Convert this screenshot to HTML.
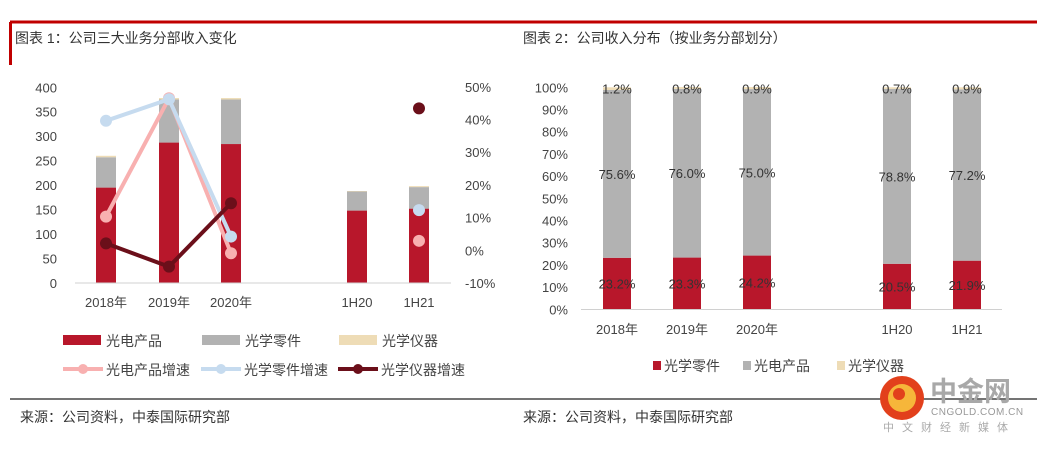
<!DOCTYPE html>
<html><head><meta charset="utf-8"><style>
body{margin:0;background:#fff;width:1037px;height:445px;overflow:hidden;font-family:"Liberation Sans","Noto Sans CJK SC",sans-serif}
svg text{font-family:"Liberation Sans","Noto Sans CJK SC",sans-serif}
</style></head><body>
<svg id="s" width="1037" height="445" xmlns="http://www.w3.org/2000/svg">
<rect x="10" y="20.5" width="1027" height="3" fill="#c00000"/>
<rect x="9" y="22" width="3" height="43" fill="#c00000"/>
<text x="15" y="43" font-size="14" fill="#333">图表 1：公司三大业务分部收入变化</text>
<text x="523" y="43" font-size="14" fill="#333">图表 2：公司收入分布（按业务分部划分）</text>
<line x1="10" y1="399" x2="1037" y2="399" stroke="#222" stroke-width="1.2"/>
<text x="20" y="422" font-size="14" fill="#333">来源：公司资料，中泰国际研究部</text>
<text x="523" y="422" font-size="14" fill="#333">来源：公司资料，中泰国际研究部</text>
<g id="c1"></g>
<g id="c2"></g>
<g>
<circle cx="902" cy="398" r="22" fill="#e2401c"/>
<circle cx="902" cy="398" r="14" fill="#f6b63a"/>
<circle cx="899" cy="394" r="6" fill="#e2401c"/>
<text x="930" y="401" font-size="27" font-weight="bold" fill="#a8a8a8">中金网</text>
<text x="931" y="415" font-size="10" fill="#999" letter-spacing="0.5">CNGOLD.COM.CN</text>
<text x="883" y="431" font-size="11" fill="#aaa" letter-spacing="8">中文财经新媒体</text>
</g>
</svg>
<script>
const NS="http://www.w3.org/2000/svg";
function mk(p,tag,a,txt){const e=document.createElementNS(NS,tag);for(const k in a)e.setAttribute(k,a[k]);if(txt!==undefined)e.textContent=txt;p.appendChild(e);return e;}
// ---- Chart 1 data ----
const cats1=["2018年","2019年","2020年","1H20","1H21"];
const optoRev=[195,287,284,148,152];
const partsRev=[62,88,91,39,44];
const instRev=[3,3,3,1,2];
const optoGrowth=[10.3,46.5,-0.9,null,2.9];
const partsGrowth=[39.6,46.2,4.2,null,12.3];
const instGrowth=[2.1,-5.0,14.4,null,43.4];
const leftTicks=[0,50,100,150,200,250,300,350,400];
const rightTicks=[-10,0,10,20,30,40,50];
// ---- Chart 2 data ----
const cats2=["2018年","2019年","2020年","1H20","1H21"];
const shareParts=[23.2,23.3,24.2,20.5,21.9];
const shareOpto=[75.6,76.0,75.0,78.8,77.2];
const shareInst=[1.2,0.8,0.9,0.7,0.9];
const pctTicks=[0,10,20,30,40,50,60,70,80,90,100];

const RED="#b8172b",GRAY="#b2b2b2",BEIGE="#eedcb6";
const c1=document.getElementById('c1');
const x1=i=>[106,169,231,357,419][i];
const yL=v=>283-v*0.4893;
const yR=v=>250.3-v*3.27;
leftTicks.forEach(t=>{const e=mk(c1,'text',{x:57,y:yL(t)+5,'font-size':13,fill:'#444','text-anchor':'end'},t);

});
rightTicks.forEach(t=>{const e=mk(c1,'text',{x:465,y:yR(t)+5,'font-size':13,fill:'#444'},t+'%');

});
cats1.forEach((c,i)=>{
 const bw=20,x=x1(i)-bw/2;let b=0;
 [[optoRev,RED,'bar-opto'],[partsRev,GRAY,'bar-parts'],[instRev,BEIGE,'bar-inst']].forEach(([arr,col,nm])=>{
  const r=mk(c1,'rect',{x:x,y:yL(b+arr[i]),width:bw,height:yL(b)-yL(b+arr[i]),fill:col});
  
  
  b+=arr[i];});
 const t=mk(c1,'text',{x:x1(i),y:307,'font-size':13,fill:'#444','text-anchor':'middle'},c);
 
 
});
const ax1=mk(c1,'line',{x1:75,y1:283,x2:451,y2:283,stroke:'#d0d0d0','stroke-width':1});


[[optoGrowth,'#f8b0b0','line-opto-growth'],[partsGrowth,'#c6dbef','line-parts-growth'],[instGrowth,'#6b0f1a','line-inst-growth']].forEach(([arr,col,nm])=>{
 let d='',pen=false;
 arr.forEach((v,i)=>{if(v===null){pen=false;return;}d+=(pen?'L':'M')+x1(i)+' '+yR(v)+' ';pen=true;});
 const p=mk(c1,'path',{d:d,fill:'none',stroke:col,'stroke-width':4});
 
 
 arr.forEach((v,i)=>{if(v===null)return;const c=mk(c1,'circle',{cx:x1(i),cy:yR(v),r:6,fill:col});
 
 });
});
// legend chart1
[[63,'光电产品',RED],[202,'光学零件',GRAY],[339,'光学仪器',BEIGE]].forEach(([x,l,c])=>{
 const r=mk(c1,'rect',{x:x,y:335,width:38,height:10,fill:c});
 
 
 const t=mk(c1,'text',{x:x+43,y:346,'font-size':14,fill:'#444'},l);
 
 
});
[[63,'光电产品增速','#f8b0b0'],[201,'光学零件增速','#c6dbef'],[338,'光学仪器增速','#6b0f1a']].forEach(([x,l,c])=>{
 const ln=mk(c1,'line',{x1:x,y1:369,x2:x+40,y2:369,stroke:c,'stroke-width':4});
 
 
 mk(c1,'circle',{cx:x+20,cy:369,r:5,fill:c});
 const t=mk(c1,'text',{x:x+43,y:375,'font-size':14,fill:'#444'},l);
 
 
});
// ---- chart 2 ----
const c2=document.getElementById('c2');
const x2=i=>[617,687,757,897,967][i];
const yP=v=>309.3-v*2.22;
pctTicks.forEach(t=>{const e=mk(c2,'text',{x:568,y:yP(t)+5,'font-size':13,fill:'#444','text-anchor':'end'},t+'%');

});
cats2.forEach((c,i)=>{
 const bw=28,x=x2(i)-bw/2;let b=0;
 [[shareParts,RED,'bar-parts-share'],[shareOpto,GRAY,'bar-opto-share'],[shareInst,BEIGE,'bar-inst-share']].forEach(([arr,col,nm],k)=>{
  const r=mk(c2,'rect',{x:x,y:yP(b+arr[i]),width:bw,height:yP(b)-yP(b+arr[i]),fill:col});
  
  
  const ly=k==2?yP(100)+6:yP(b+arr[i]/2)+5;
  const t=mk(c2,'text',{x:x2(i),y:ly,'font-size':13,fill:'#333','text-anchor':'middle'},arr[i].toFixed(1)+'%');
  
  
  b+=arr[i];});
 const t=mk(c2,'text',{x:x2(i),y:334,'font-size':13,fill:'#444','text-anchor':'middle'},c);
 
 
});
const ax2=mk(c2,'line',{x1:581,y1:309.5,x2:1002,y2:309.5,stroke:'#d0d0d0','stroke-width':1});


[[653,'光学零件',RED],[743,'光电产品',GRAY],[837,'光学仪器',BEIGE]].forEach(([x,l,c])=>{
 const r=mk(c2,'rect',{x:x,y:361,width:8,height:9,fill:c});
 
 
 const t=mk(c2,'text',{x:x+11,y:371,'font-size':14,fill:'#444'},l);
 
 
});
</script>
</body></html>
